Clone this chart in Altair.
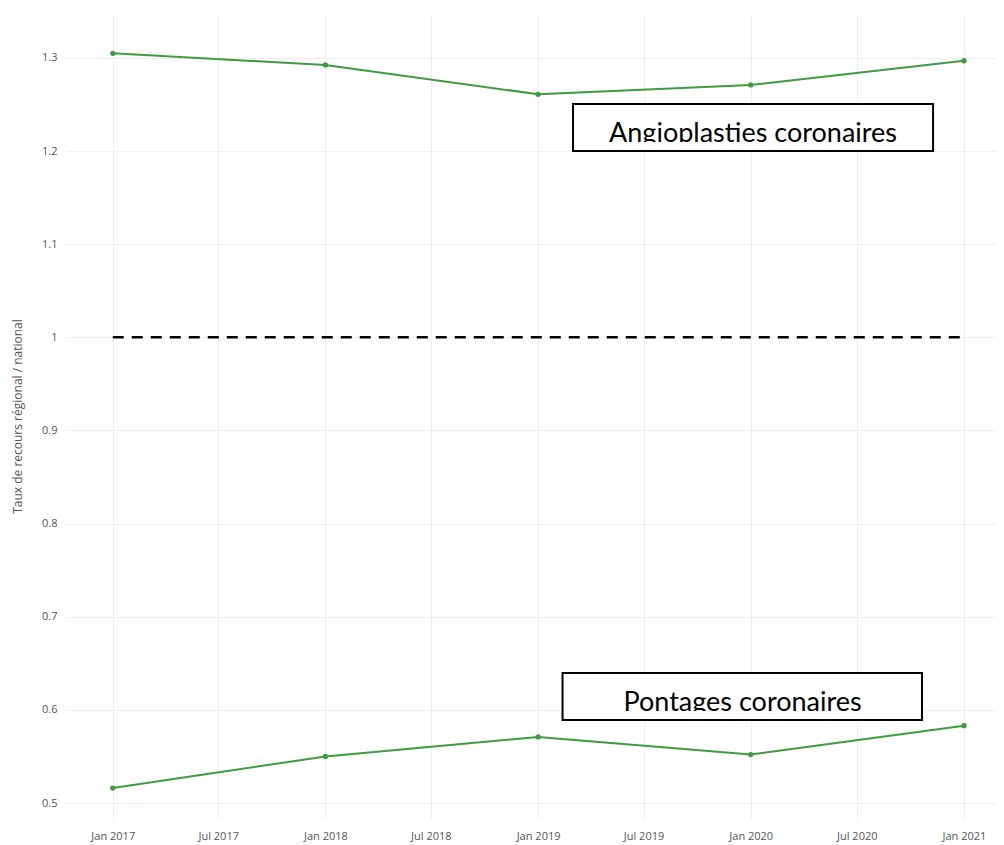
import altair as alt
import pandas as pd

# ---- data ----
dates = ["2017-01-01", "2018-01-01", "2019-01-01", "2020-01-01", "2021-01-01"]
angioplasties = [1.305, 1.2925, 1.261, 1.271, 1.297]
pontages = [0.516, 0.550, 0.571, 0.552, 0.583]

ref_dates = ["2017-01-01", "2021-01-01"]
ref_values = [1.0, 1.0]

tick_dates = ["2017-01-01", "2017-07-01", "2018-01-01", "2018-07-01", "2019-01-01",
              "2019-07-01", "2020-01-01", "2020-07-01", "2021-01-01"]
y_ticks = [0.5, 0.6, 0.7, 0.8, 0.9, 1.0, 1.1, 1.2, 1.3]
x_domain = ["2016-10-11", "2021-02-25"]
y_domain = [0.4839, 1.3472]

box_labels = ["Angioplasties coronaires", "Pontages coronaires"]
box_x_start = ["2019-03-02", "2019-02-12"]
box_x_end = ["2020-11-09", "2020-10-21"]
box_text_x = ["2020-01-05", "2019-12-18"]
box_top = [1.2506, 0.6396]
box_bottom = [1.2001, 0.5891]
box_text_base = [1.2098, 0.5988]

GREEN = "#3f9b3f"


def dt(s):
    y, m, d = map(int, s.split("-"))
    return alt.DateTime(year=y, month=m, date=d, utc=True)


series = pd.DataFrame({
    "date": dates * 2,
    "value": angioplasties + pontages,
    "serie": ["Angioplasties coronaires"] * len(dates) + ["Pontages coronaires"] * len(dates),
})
ref = pd.DataFrame({"date": ref_dates, "value": ref_values})
boxes = pd.DataFrame({
    "label": box_labels, "x1": box_x_start, "x2": box_x_end, "xt": box_text_x,
    "top": box_top, "bottom": box_bottom, "base": box_text_base,
})

x_scale = alt.Scale(type="utc", domain=[dt(s) for s in x_domain])
y_scale = alt.Scale(domain=y_domain, nice=False, zero=False)

x_enc = alt.X("date:T", scale=x_scale, title=None,
              axis=alt.Axis(values=[dt(s) for s in tick_dates],
                            labelExpr="utcFormat(datum.value, '%b %Y')",
                            labelPadding=12, labelAngle=0))
y_enc = alt.Y("value:Q", scale=y_scale, title="Taux de recours régional / national",
              axis=alt.Axis(values=y_ticks, labelPadding=8, titlePadding=17,
                            labelExpr="format(datum.value, '~g')"))

lines = alt.Chart(series).mark_line(color=GREEN, strokeWidth=2).encode(
    x=x_enc, y=y_enc, detail="serie:N")
points = alt.Chart(series).mark_point(filled=True, color=GREEN, size=28, opacity=1).encode(
    x="date:T", y="value:Q", detail="serie:N")
dashed = alt.Chart(ref).mark_line(color="black", strokeWidth=2.5, strokeDash=[11, 8]).encode(
    x="date:T", y="value:Q")

box_fill = alt.Chart(boxes).mark_rect(fill="white", stroke=None).encode(
    x="x1:T", x2="x2:T", y="top:Q", y2="bottom:Q")
box_text = alt.Chart(boxes).mark_text(font="Lato", fontSize=27, color="black",
                                      align="center", baseline="alphabetic").encode(
    x="xt:T", y="base:Q", text="label:N")
box_strip = alt.Chart(boxes).mark_rect(fill="white", stroke=None).encode(
    x="x1:T", x2="x2:T", y="base:Q", y2="bottom:Q")
box_border = alt.Chart(boxes).mark_rect(fill=None, fillOpacity=0, stroke="black", strokeWidth=2).encode(
    x="x1:T", x2="x2:T", y="top:Q", y2="bottom:Q")

chart = alt.layer(lines, points, dashed, box_fill, box_text, box_strip, box_border).properties(
    width=931, height=804,
    autosize=alt.AutoSizeParams(type="none"),
    padding={"left": 57, "top": 6, "right": 0, "bottom": 28},
).configure_view(stroke=None).configure_axis(
    grid=True, gridColor="#eeeeee", gridWidth=1, domain=False, ticks=False,
    labelFont="Open Sans", labelFontSize=11, labelColor="#555555",
    titleFont="Open Sans", titleFontSize=12, titleColor="#555555", titleFontWeight="normal",
)

chart.save("out.html", embed_options={"renderer": "svg", "actions": False})
